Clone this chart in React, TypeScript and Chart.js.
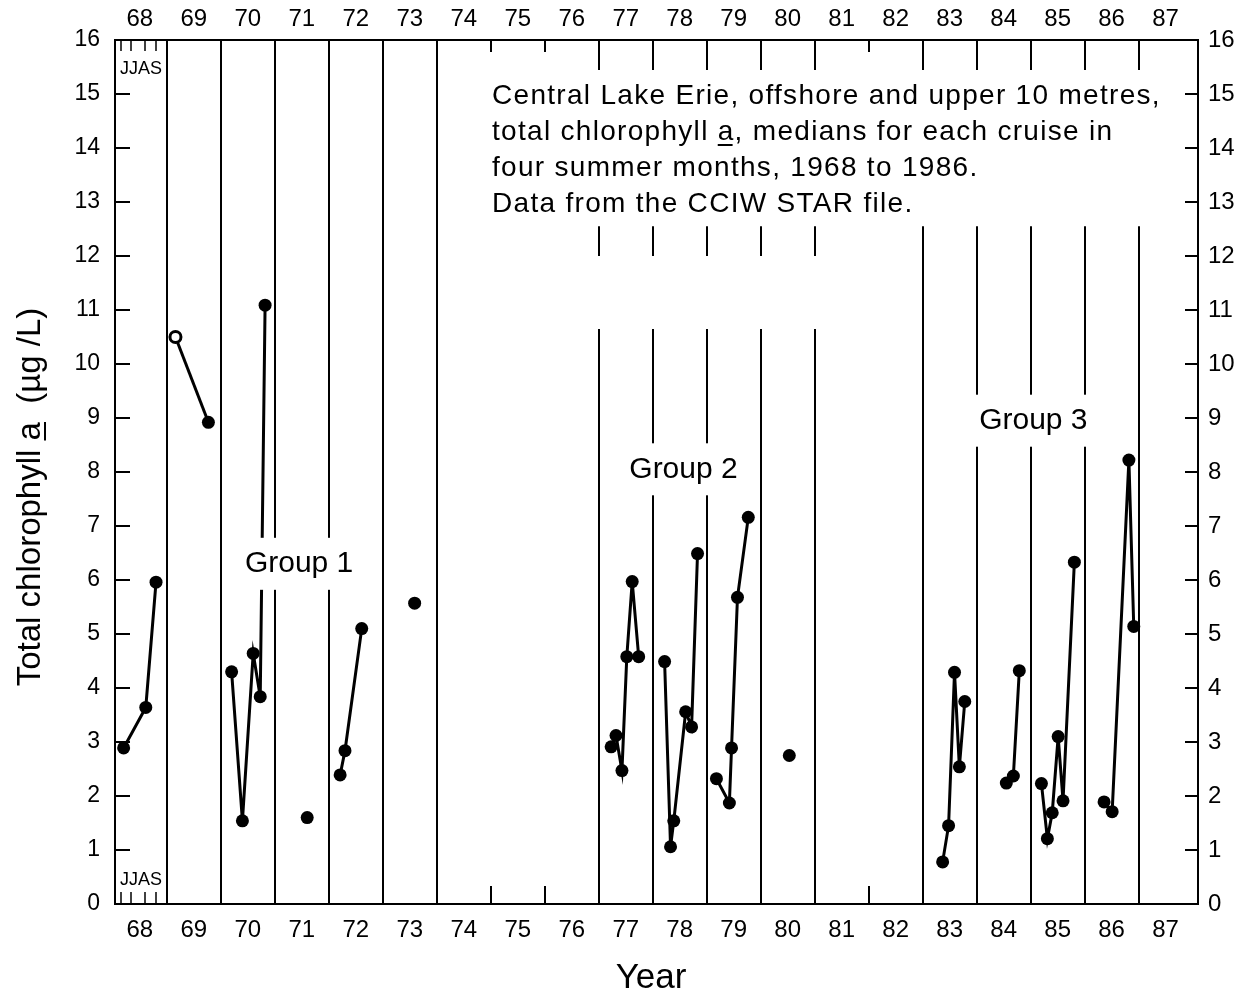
import React, { useEffect, useRef } from 'react';
import { Chart, registerables } from 'chart.js';

Chart.register(...registerables);

// ---- axis ranges / ticks ----
const YEARS = [68, 69, 70, 71, 72, 73, 74, 75, 76, 77, 78, 79, 80, 81, 82, 83, 84, 85, 86, 87];
const X_MIN = 67.54;
const X_MAX = 87.6;
const Y_MIN = 0;
const Y_MAX = 16;

// ---- cruise dates (fractional year) and median chlorophyll a (ug/L) ----
const d68 = [67.7, 68.11, 68.3];
const c68 = [2.89, 3.64, 5.96];
const d69 = [68.66, 69.27];
const c69 = [10.5, 8.92];
const d70 = [69.7, 69.9, 70.1, 70.23, 70.32];
const c70 = [4.3, 1.54, 4.64, 3.84, 11.09];
const d71 = [71.1];
const c71 = [1.6];
const d72 = [71.71, 71.8, 72.11];
const c72 = [2.39, 2.84, 5.1];
const d73 = [73.09];
const c73 = [5.57];
const d77 = [76.73, 76.82, 76.93, 77.02, 77.12, 77.24];
const c77 = [2.91, 3.12, 2.47, 4.58, 5.97, 4.58];
const d78 = [77.72, 77.83, 77.89, 78.11, 78.22, 78.33];
const c78 = [4.49, 1.06, 1.54, 3.56, 3.28, 6.49];
const d79 = [78.68, 78.92, 78.96, 79.07, 79.27];
const c79 = [2.32, 1.87, 2.89, 5.68, 7.16];
const d80 = [80.03];
const c80 = [2.75];
const d83 = [82.87, 82.98, 83.09, 83.18, 83.28];
const c83 = [0.78, 1.45, 4.29, 2.54, 3.75];
const d84 = [84.05, 84.18, 84.29];
const c84 = [2.24, 2.37, 4.32];
const d85 = [84.7, 84.81, 84.9, 85.01, 85.1, 85.31];
const c85 = [2.23, 1.21, 1.69, 3.1, 1.91, 6.33];
const d86 = [85.86, 86.01, 86.32, 86.41];
const c86 = [1.89, 1.71, 8.22, 5.14];

// ---- year dividers ----
const FULL_DIVIDERS = [68.5, 69.5, 70.5, 71.5, 72.5, 73.5];
const SHORT_DIVIDERS = [74.5, 75.5, 81.5];
const G2_DIVIDERS = [76.5, 77.5, 78.5, 79.5, 80.5];
const G3_DIVIDERS = [82.5, 83.5, 84.5, 85.5, 86.5];
const DASH_TOP = 12.55;
const DASH_BOTTOM = 12.0;
const G2_LINE_TOP = 10.65;
const G3_LINE_TOP = 12.55;
const MONTH_TICKS = [67.66, 67.84, 68.09, 68.3];

// ---- text ----
const NOTE_LINES = [
  'Central Lake Erie, offshore and upper 10 metres,',
  'total chlorophyll a, medians for each cruise in',
  'four summer months, 1968 to 1986.',
  'Data from the CCIW STAR file.',
];
const GROUP_LABELS = ['Group 1', 'Group 2', 'Group 3'];
const GROUP_X = [70.95, 78.07, 84.55];
const GROUP_Y = [6.3, 8.05, 8.95];
const Y_TITLE = 'Total chlorophyll a  (\u00b5g /L)';
const X_TITLE = 'Year';
const MONTHS = 'JJAS';

const FONT = '"Liberation Sans", Arial, Helvetica, sans-serif';

const groups = [
  [d68, c68], [d69, c69], [d70, c70], [d71, c71], [d72, c72], [d73, c73],
  [d77, c77], [d78, c78], [d79, c79], [d80, c80],
  [d83, c83], [d84, c84], [d85, c85], [d86, c86],
];

const decor = {
  id: 'decor',
  beforeDraw(chart: any) {
    const ctx = chart.ctx;
    ctx.save();
    ctx.fillStyle = '#fff';
    ctx.fillRect(0, 0, chart.width, chart.height);
    ctx.restore();
  },
  beforeDatasetsDraw(chart: any) {
    const { ctx, chartArea: ca, scales } = chart;
    const xs = scales.x;
    const ys = scales.y;
    ctx.save();
    ctx.strokeStyle = '#000';
    ctx.lineWidth = 2;
    const vline = (xv: number, y1: number, y2: number) => {
      const px = Math.round(xs.getPixelForValue(xv));
      ctx.beginPath();
      ctx.moveTo(px, y1);
      ctx.lineTo(px, y2);
      ctx.stroke();
    };
    const hline = (x1: number, x2: number, py: number) => {
      ctx.beginPath();
      ctx.moveTo(x1, Math.round(py));
      ctx.lineTo(x2, Math.round(py));
      ctx.stroke();
    };
    FULL_DIVIDERS.forEach((v) => vline(v, ca.top, ca.bottom));
    SHORT_DIVIDERS.forEach((v) => {
      vline(v, ca.top, ca.top + 12);
      vline(v, ca.bottom - 18, ca.bottom);
    });
    G2_DIVIDERS.forEach((v) => {
      vline(v, ca.top, ca.top + 30);
      vline(v, ys.getPixelForValue(DASH_TOP), ys.getPixelForValue(DASH_BOTTOM));
      vline(v, ys.getPixelForValue(G2_LINE_TOP), ca.bottom);
    });
    G3_DIVIDERS.forEach((v) => {
      vline(v, ca.top, ca.top + 30);
      vline(v, ys.getPixelForValue(G3_LINE_TOP), ca.bottom);
    });
    ctx.lineWidth = 1.5;
    MONTH_TICKS.forEach((v) => {
      vline(v, ca.top, ca.top + 11);
      vline(v, ca.bottom - 12, ca.bottom);
    });
    ctx.lineWidth = 2;
    for (let v = Y_MIN + 1; v < Y_MAX; v++) {
      const py = ys.getPixelForValue(v);
      hline(ca.left, ca.left + 15, py);
      hline(ca.right - 13, ca.right, py);
    }
    ctx.restore();
  },
  afterDatasetsDraw(chart: any) {
    const { ctx, scales } = chart;
    const xs = scales.x;
    const ys = scales.y;
    ctx.save();
    ctx.fillStyle = '#000';
    ctx.strokeStyle = '#000';

    // group labels on white boxes
    ctx.font = `30px ${FONT}`;
    ctx.textAlign = 'center';
    ctx.textBaseline = 'middle';
    GROUP_LABELS.forEach((t, i) => {
      const cx = xs.getPixelForValue(GROUP_X[i]);
      const cy = ys.getPixelForValue(GROUP_Y[i]);
      const w = ctx.measureText(t).width;
      ctx.fillStyle = '#fff';
      ctx.fillRect(cx - w / 2 - 6, cy - 26, w + 12, 52);
      ctx.fillStyle = '#000';
      ctx.fillText(t, cx, cy);
    });

    // note text
    ctx.textAlign = 'left';
    ctx.textBaseline = 'alphabetic';
    ctx.font = `28px ${FONT}`;
    try { (ctx as any).letterSpacing = '1.3px'; } catch (e) {}
    const nx = 492;
    NOTE_LINES.forEach((t, i) => {
      const by = 104 + i * 36;
      ctx.fillText(t, nx, by);
      if (i === 1) {
        const pre = ctx.measureText('total chlorophyll ').width;
        const aw = ctx.measureText('a').width;
        ctx.lineWidth = 2;
        ctx.beginPath();
        ctx.moveTo(nx + pre, by + 5);
        ctx.lineTo(nx + pre + aw - 2, by + 5);
        ctx.stroke();
      }
    });
    try { (ctx as any).letterSpacing = '0px'; } catch (e) {}

    // JJAS month labels
    ctx.font = `18px ${FONT}`;
    ctx.fillText(MONTHS, 120, 74);
    ctx.fillText(MONTHS, 120, 885);

    // y title
    ctx.save();
    ctx.translate(40, 497);
    ctx.rotate(-Math.PI / 2);
    ctx.font = `33px ${FONT}`;
    ctx.textAlign = 'left';
    const tw = ctx.measureText(Y_TITLE).width;
    const pre = ctx.measureText('Total chlorophyll ').width;
    const aw = ctx.measureText('a').width;
    ctx.fillText(Y_TITLE, -tw / 2, 0);
    ctx.lineWidth = 2;
    ctx.beginPath();
    ctx.moveTo(-tw / 2 + pre, 5);
    ctx.lineTo(-tw / 2 + pre + aw, 5);
    ctx.stroke();
    ctx.restore();

    // x title
    ctx.font = `35px ${FONT}`;
    ctx.textAlign = 'center';
    ctx.fillText(X_TITLE, 651, 988);

    ctx.restore();
  },
};

export default function App() {
  const ref = useRef<HTMLCanvasElement>(null);
  useEffect(() => {
    if (!ref.current) return;
    Chart.defaults.font.family = FONT;
    const datasets = groups.map(([d, c], gi) => ({
      data: d.map((x, i) => ({ x, y: c[i] })),
      showLine: true,
      borderColor: '#000',
      borderWidth: 3,
      pointRadius: gi === 1 ? [5.5, 6.5] : 6.5,
      pointBackgroundColor: gi === 1 ? ['#fff', '#000'] : '#000',
      pointBorderColor: '#000',
      pointBorderWidth: gi === 1 ? [3, 0] : 0,
      xAxisID: 'x',
      yAxisID: 'y',
    }));
    const yearTicks = (s: any) => {
      s.ticks = YEARS.map((v) => ({ value: v }));
    };
    const chart = new Chart(ref.current, {
      type: 'scatter',
      data: { datasets },
      options: {
        animation: false,
        responsive: false,
        devicePixelRatio: 1,
        layout: { padding: 0 },
        plugins: { legend: { display: false }, tooltip: { enabled: false } },
        scales: {
          x: {
            type: 'linear',
            position: 'bottom',
            min: X_MIN,
            max: X_MAX,
            afterBuildTicks: yearTicks,
            afterFit: (s: any) => { s.height = 93; },
            grid: { display: false, drawTicks: false },
            border: { display: true, color: '#000', width: 2 },
            ticks: { color: '#000', font: { size: 24 }, padding: 12, maxRotation: 0, autoSkip: false },
          },
          xTop: {
            type: 'linear',
            position: 'top',
            min: X_MIN,
            max: X_MAX,
            afterBuildTicks: yearTicks,
            afterFit: (s: any) => { s.height = 40; },
            grid: { display: false, drawTicks: false },
            border: { display: true, color: '#000', width: 2 },
            ticks: { color: '#000', font: { size: 24 }, padding: 6, maxRotation: 0, autoSkip: false },
          },
          y: {
            type: 'linear',
            position: 'left',
            min: Y_MIN,
            max: Y_MAX,
            afterFit: (s: any) => { s.width = 115; },
            grid: { display: false, drawTicks: false },
            border: { display: true, color: '#000', width: 2 },
            ticks: { color: '#000', font: { size: 23 }, padding: 15, stepSize: 1, autoSkip: false },
          },
          yRight: {
            type: 'linear',
            position: 'right',
            min: Y_MIN,
            max: Y_MAX,
            afterFit: (s: any) => { s.width = 62; },
            grid: { display: false, drawTicks: false },
            border: { display: true, color: '#000', width: 2 },
            ticks: { color: '#000', font: { size: 24 }, padding: 10, stepSize: 1, autoSkip: false },
          },
        },
      },
      plugins: [decor],
    } as any);
    return () => chart.destroy();
  }, []);
  return (
    <div style={{ position: 'absolute', left: 0, top: 0, width: 1260, height: 997, background: '#fff' }}>
      <canvas ref={ref} width={1260} height={997} style={{ display: 'block' }} />
    </div>
  );
}
